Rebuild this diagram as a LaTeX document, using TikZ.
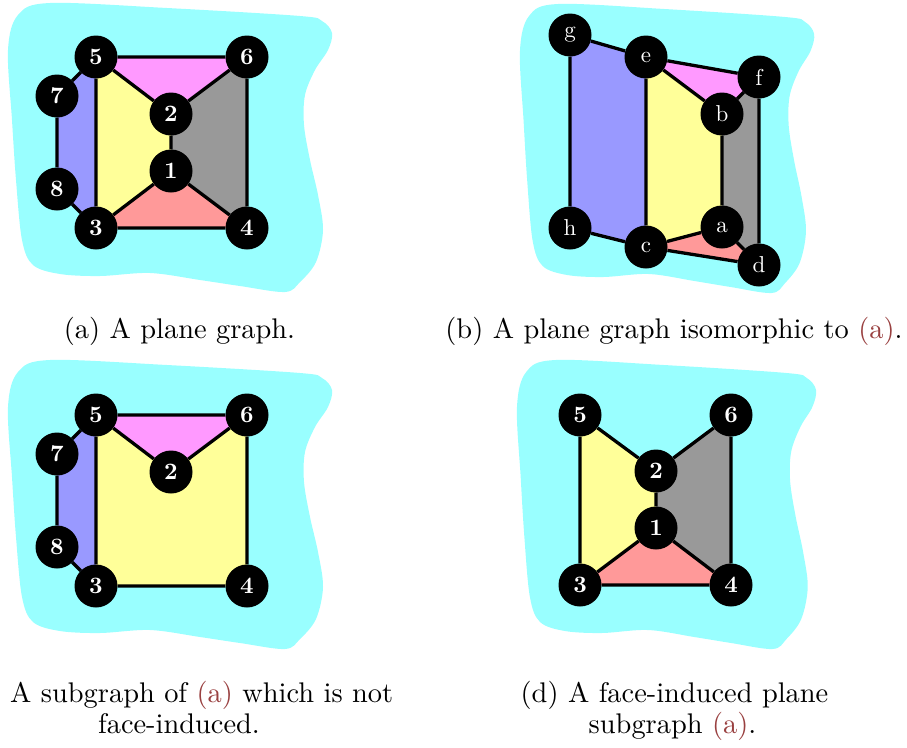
\documentclass[tikz,border=0pt]{standalone}
\usepackage{xcolor}
\usepackage{graphicx}
\usetikzlibrary{backgrounds}
\definecolor{blobcol}{HTML}{99FFFF}
\definecolor{fmag}{HTML}{FF99FF}
\definecolor{fyel}{HTML}{FFFF99}
\definecolor{fgray}{HTML}{999999}
\definecolor{fred}{HTML}{FF9999}
\definecolor{fblue}{HTML}{9999FF}
\definecolor{linkred}{rgb}{0.6,0.25,0.25}
\pgfdeclarelayer{blobs}
\pgfdeclarelayer{faces}
\pgfsetlayers{blobs,faces,main}
\newcommand{\vlab}[1]{\scalebox{2.35}{\fontsize{10}{12}\selectfont\bfseries #1}}
\newcommand{\llab}[1]{\scalebox{2.3}{\fontsize{10}{12}\selectfont #1}}
\newcommand{\captext}[1]{\scalebox{2.84}{\fontsize{10}{12}\selectfont #1}}
\tikzset{
  vert/.style={circle,fill=black,inner sep=0pt,minimum size=43pt,text=white},
  edge/.style={draw=black,line width=3.3pt},
  captxt/.style={anchor=base,inner sep=0pt}
}
\newcommand{\myblob}{%
  \fill[blobcol] plot[smooth cycle,tension=0.55] coordinates {
    (50,3) (167,8) (300,16) (322,21) (332,33) (328,50) (315,70) (305,95)
    (304,125) (310,160) (318,195) (323,230) (316,262) (300,282) (285,292)
    (240,286) (200,280) (150,273) (100,276) (60,274) (33,265) (22,240)
    (16,180) (12,120) (8,50) (18,15)};
}
\begin{document}
\begin{tikzpicture}[x=1pt,y=-1pt]
\useasboundingbox (0,0) rectangle (907,747);
% ---------- blobs
\begin{pgfonlayer}{blobs}
\myblob
\begin{scope}[shift={(512.7,1)},xscale=0.908]\myblob\end{scope}
\begin{scope}[shift={(0,357)}]\myblob\end{scope}
\begin{scope}[shift={(509.6,357)},xscale=0.923]\myblob\end{scope}
\end{pgfonlayer}

% ---------- panel (a)
\node[vert] (a5) at (96,57) {\vlab{5}};
\node[vert] (a6) at (247,57) {\vlab{6}};
\node[vert] (a7) at (57,96) {\vlab{7}};
\node[vert] (a2) at (171,114) {\vlab{2}};
\node[vert] (a1) at (171,171) {\vlab{1}};
\node[vert] (a8) at (57,189) {\vlab{8}};
\node[vert] (a3) at (96,228) {\vlab{3}};
\node[vert] (a4) at (247,228) {\vlab{4}};
\begin{pgfonlayer}{faces}
\fill[fblue] (a5.center) -- (a7.center) -- (a8.center) -- (a3.center) -- cycle;
\fill[fyel] (a5.center) -- (a2.center) -- (a1.center) -- (a3.center) -- cycle;
\fill[fmag] (a5.center) -- (a6.center) -- (a2.center) -- cycle;
\fill[fgray] (a2.center) -- (a6.center) -- (a4.center) -- (a1.center) -- cycle;
\fill[fred] (a1.center) -- (a4.center) -- (a3.center) -- cycle;
\end{pgfonlayer}
\draw[edge] (a5)--(a6) (a5)--(a7) (a7)--(a8) (a8)--(a3) (a5)--(a3) (a5)--(a2)
  (a2)--(a6) (a6)--(a4) (a2)--(a1) (a1)--(a3) (a1)--(a4) (a3)--(a4);

% ---------- panel (b)
\node[vert] (bg) at (570,35) {\llab{g}};
\node[vert] (be) at (646,57) {\llab{e}};
\node[vert] (bf) at (759,77) {\llab{f}};
\node[vert] (bb) at (722,114) {\llab{b}};
\node[vert] (ba) at (722,227) {\llab{a}};
\node[vert] (bh) at (570,228) {\llab{h}};
\node[vert] (bc) at (646,247) {\llab{c}};
\node[vert] (bd) at (759,265) {\llab{d}};
\begin{pgfonlayer}{faces}
\fill[fblue] (bg.center) -- (be.center) -- (bc.center) -- (bh.center) -- cycle;
\fill[fyel] (be.center) -- (bb.center) -- (ba.center) -- (bc.center) -- cycle;
\fill[fmag] (be.center) -- (bf.center) -- (bb.center) -- cycle;
\fill[fgray] (bb.center) -- (bf.center) -- (bd.center) -- (ba.center) -- cycle;
\fill[fred] (bc.center) -- (ba.center) -- (bd.center) -- cycle;
\end{pgfonlayer}
\draw[edge] (bg)--(be) (be)--(bf) (bg)--(bh) (bh)--(bc) (bc)--(bd) (be)--(bc)
  (be)--(bb) (bb)--(bf) (bf)--(bd) (bb)--(ba) (ba)--(bc) (ba)--(bd);

% ---------- panel (c)
\node[vert] (c5) at (96,415) {\vlab{5}};
\node[vert] (c6) at (247,415) {\vlab{6}};
\node[vert] (c7) at (57,454) {\vlab{7}};
\node[vert] (c2) at (171,472) {\vlab{2}};
\node[vert] (c8) at (57,547) {\vlab{8}};
\node[vert] (c3) at (96,586) {\vlab{3}};
\node[vert] (c4) at (247,586) {\vlab{4}};
\begin{pgfonlayer}{faces}
\fill[fblue] (c5.center) -- (c7.center) -- (c8.center) -- (c3.center) -- cycle;
\fill[fmag] (c5.center) -- (c6.center) -- (c2.center) -- cycle;
\fill[fyel] (c5.center) -- (c2.center) -- (c6.center) -- (c4.center) -- (c3.center) -- cycle;
\end{pgfonlayer}
\draw[edge] (c5)--(c6) (c5)--(c7) (c7)--(c8) (c8)--(c3) (c5)--(c3) (c5)--(c2)
  (c2)--(c6) (c6)--(c4) (c3)--(c4);

% ---------- panel (d)
\node[vert] (d5) at (580,415) {\vlab{5}};
\node[vert] (d6) at (731,415) {\vlab{6}};
\node[vert] (d2) at (656,471) {\vlab{2}};
\node[vert] (d1) at (656,528) {\vlab{1}};
\node[vert] (d3) at (580,585) {\vlab{3}};
\node[vert] (d4) at (731,585) {\vlab{4}};
\begin{pgfonlayer}{faces}
\fill[fyel] (d5.center) -- (d2.center) -- (d1.center) -- (d3.center) -- cycle;
\fill[fgray] (d2.center) -- (d6.center) -- (d4.center) -- (d1.center) -- cycle;
\fill[fred] (d1.center) -- (d4.center) -- (d3.center) -- cycle;
\end{pgfonlayer}
\draw[edge] (d5)--(d3) (d5)--(d2) (d2)--(d6) (d6)--(d4) (d2)--(d1) (d1)--(d3)
  (d1)--(d4) (d3)--(d4);

% ---------- captions
\node[captxt] (capa) at (179.5,338) {\captext{(a) A plane graph.}};
\node[captxt] (capb) at (674,338) {\captext{(b) A plane graph isomorphic to \textcolor{linkred}{(a)}.}};
\node[captxt,anchor=base west] (capc1) at (10,702) {\captext{A subgraph of \textcolor{linkred}{(a)} which is not}};
\node[captxt] (capc2) at (179,733) {\captext{face-induced.}};
\node[captxt] (capd1) at (674.5,702) {\captext{(d) A face-induced plane}};
\node[captxt] (capd2) at (672.5,733) {\captext{subgraph \textcolor{linkred}{(a)}.}};
\end{tikzpicture}
\end{document}
